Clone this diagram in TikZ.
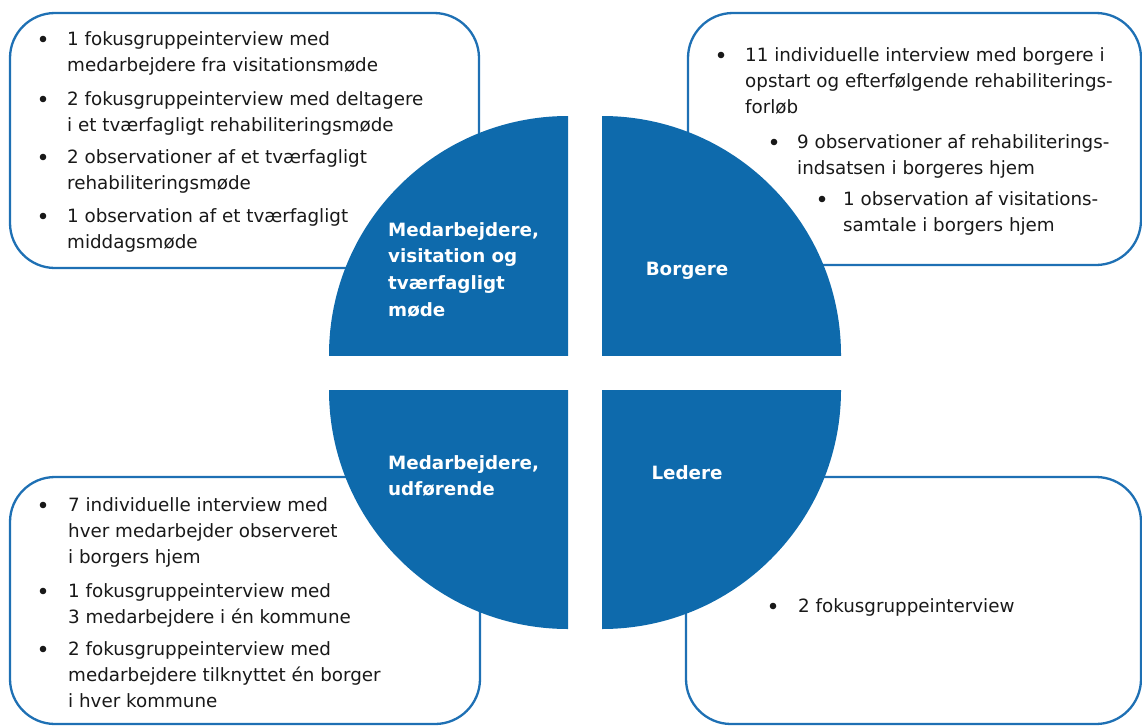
\documentclass[tikz,border=0pt]{standalone}
\usepackage{fontspec}
\setmainfont{DejaVu Sans}
\definecolor{qblue}{RGB}{14,106,172}
\definecolor{bblue}{RGB}{30,112,180}
\begin{document}
\begin{tikzpicture}[x=1pt,y=-1pt,
  box/.style={draw=bblue, line width=2.3pt, rounded corners=45pt, fill=white},
  quarter/.style={fill=qblue},
  itemtext/.style={anchor=base west, align=left, inner sep=0pt, text=black!90,
    font=\fontsize{18.3}{26.3}\selectfont},
  bul/.style={circle, fill=black!90, inner sep=0pt, minimum size=6.6pt},
  qlabel/.style={anchor=base west, align=left, inner sep=0pt, text=white,
    font=\bfseries\fontsize{18.3}{26.7}\selectfont}]
\useasboundingbox (0,0) rectangle (1142,725);
\clip (0,0) rectangle (1142,725);

% boxes
\draw[box] (10,13) rectangle (479,268);
\draw[box] (688,13) rectangle (1141,265);
\draw[box] (10,477) rectangle (480,724);
\draw[box] (686,477) rectangle (1141,724);

% quarters
\begin{scope}
  \clip (329,100) rectangle (568,355);
  \fill[quarter] (568,355) circle[radius=239pt];
\end{scope}
\begin{scope}
  \clip (602,100) rectangle (860,355);
  \fill[quarter] (602,355) circle[radius=239pt];
\end{scope}
\begin{scope}
  \clip (310,390) rectangle (568,650);
  \fill[quarter] (568,390) circle[radius=239pt];
\end{scope}
\begin{scope}
  \clip (602,390) rectangle (860,650);
  \fill[quarter] (602,390) circle[radius=239pt];
\end{scope}

% quarter labels (anchor = baseline of the last line)
\node[qlabel] (lab1) at (388,316.1) {Medarbejdere,\\visitation og\\tværfagligt\\møde};
\node[qlabel, anchor=base] (lab2) at (687,275) {Borgere};
\node[qlabel] (lab3) at (388,495.7) {Medarbejdere,\\udførende};
\node[qlabel, anchor=base] (lab4) at (687,479) {Ledere};

% top-left box
\node[bul] (tl1b) at (43,39) {};
\node[itemtext] (tl1) at (67,71.3) {1 fokusgruppeinterview med\\medarbejdere fra visitationsmøde};
\node[bul] (tl2b) at (43,99) {};
\node[itemtext] (tl2) at (67,131.3) {2 fokusgruppeinterview med deltagere\\i et tværfagligt rehabiliteringsmøde};
\node[bul] (tl3b) at (43,157) {};
\node[itemtext] (tl3) at (67,189.3) {2 observationer af et tværfagligt\\rehabiliteringsmøde};
\node[bul] (tl4b) at (43,216) {};
\node[itemtext] (tl4) at (67,248.3) {1 observation af et tværfagligt\\middagsmøde};

% top-right box
\node[bul] (tr1b) at (721,55) {};
\node[itemtext] (tr1) at (745,113.6) {11 individuelle interview med borgere i\\opstart og efterfølgende rehabiliterings-\\forløb};
\node[bul] (tr2b) at (774,142) {};
\node[itemtext] (tr2) at (797,174.3) {9 observationer af rehabiliterings-\\indsatsen i borgeres hjem};
\node[bul] (tr3b) at (822,199) {};
\node[itemtext] (tr3) at (843,231.3) {1 observation af visitations-\\samtale i borgers hjem};

% bottom-left box
\node[bul] (bl1b) at (43,505) {};
\node[itemtext] (bl1) at (68,563.6) {7 individuelle interview med\\hver medarbejder observeret\\i borgers hjem};
\node[bul] (bl2b) at (43,591) {};
\node[itemtext] (bl2) at (68,623.3) {1 fokusgruppeinterview med\\3 medarbejdere i én kommune};
\node[bul] (bl3b) at (43,649) {};
\node[itemtext] (bl3) at (68,707.6) {2 fokusgruppeinterview med\\medarbejdere tilknyttet én borger\\i hver kommune};

% bottom-right box
\node[bul] (br1b) at (773,606) {};
\node[itemtext] (br1) at (798,612) {2 fokusgruppeinterview};
\end{tikzpicture}
\end{document}
